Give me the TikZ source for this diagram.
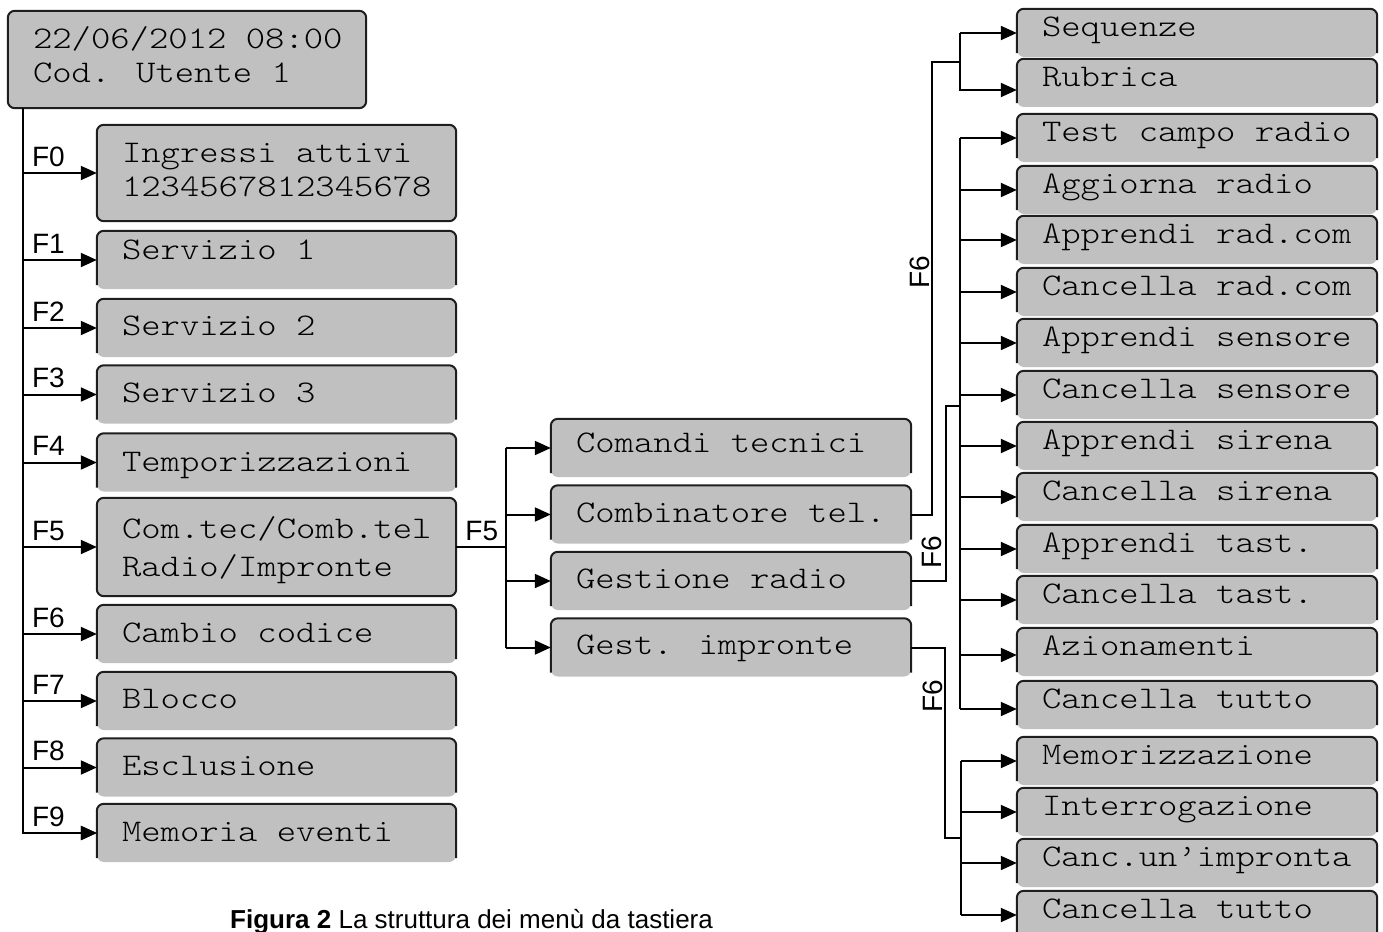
\documentclass[tikz,border=0pt]{standalone}
\usepackage{fontspec}
\setmainfont{Liberation Sans}
\newfontfamily\lcd[FakeStretch=1.17]{Latin Modern Mono Light}
\usetikzlibrary{arrows.meta,calc}
\definecolor{boxgray}{RGB}{192,192,192}
\definecolor{edge}{RGB}{30,30,30}
\tikzset{
  mbox/.style={fill=boxgray, rounded corners=7pt, inner sep=0pt, draw=none},
  outl/.style={line width=2pt, draw=edge, rounded corners=7pt},
  lcdtxt/.style={font=\lcd\fontsize{31.5}{36}\selectfont, anchor=base west, inner sep=0pt},
  flab/.style={font=\fontsize{28}{30}\selectfont, anchor=base west, inner sep=0pt},
  flabv/.style={font=\fontsize{28}{30}\selectfont, anchor=base, rotate=90, inner sep=0pt},
  conn/.style={line width=2pt, draw=black},
  arr/.style={conn, -{Triangle[length=16pt,width=14pt]}}
}
% open-bottom box: name, cx, cy, w, h
\newcommand\obox[5]{%
  \node[mbox, minimum width=#4pt, minimum height=#5pt] (#1) at (#2,#3) {};
  \draw[outl] ($(#1.south west)+(0,-4)$) -- (#1.north west) -- (#1.north east) -- ($(#1.south east)+(0,-4)$);
}
% closed box
\newcommand\cbox[5]{%
  \node[mbox, minimum width=#4pt, minimum height=#5pt] (#1) at (#2,#3) {};
  \draw[outl] (#1.south west) rectangle (#1.north east);
}
% text: name, box, baseline offset from top, text
\newcommand\btxt[4]{\node[lcdtxt] (#1) at ($(#2.north west)+(25,#3)$) {#4};}
\begin{document}
\begin{tikzpicture}[x=1pt,y=-1pt]
\useasboundingbox (0,0) rectangle (1383,931);
\clip (0,0) rectangle (1383,931);

% ---------- left column ----------
\cbox{top}{187}{59.5}{358}{97}
\btxt{topa}{top}{38}{22/06/2012 08:00}
\btxt{topb}{top}{72}{Cod. Utente 1}

\cbox{ing}{276.5}{173}{359}{96}
\btxt{inga}{ing}{38}{Ingressi attivi}
\btxt{ingb}{ing}{72}{1234567812345678}

\obox{s1}{276.5}{260}{359}{58}
\btxt{s1t}{s1}{29}{Servizio 1}
\obox{s2}{276.5}{328}{359}{58}
\btxt{s2t}{s2}{36.5}{Servizio 2}
\obox{s3}{276.5}{394.5}{359}{58}
\btxt{s3t}{s3}{37}{Servizio 3}
\obox{tmp}{276.5}{462.5}{359}{58}
\btxt{tmpt}{tmp}{38.5}{Temporizzazioni}

\cbox{ct}{276.5}{547}{359}{98}
\btxt{cta}{ct}{41}{Com.tec/Comb.tel}
\btxt{ctb}{ct}{79}{Radio/Impronte}

\obox{cc}{276.5}{634}{359}{58}
\btxt{cct}{cc}{38}{Cambio codice}
\obox{blk}{276.5}{701}{359}{58}
\btxt{blkt}{blk}{37}{Blocco}
\obox{esc}{276.5}{767.5}{359}{58}
\btxt{esct}{esc}{37.5}{Esclusione}
\obox{mev}{276.5}{833}{359}{58}
\btxt{mevt}{mev}{38}{Memoria eventi}

\coordinate (tk) at ($(top.south west)+(15,0)$);
\draw[arr] (tk) |- (mev.west);
\foreach \b/\f in {ing/F0,s1/F1,s2/F2,s3/F3,tmp/F4,ct/F5,cc/F6,blk/F7,esc/F8,mev/F9}{
  \draw[arr] (tk |- \b.west) -- (\b.west);
  \node[flab] at ($(tk |- \b.west)+(9,-7)$) {\f};
}

% ---------- middle column ----------
\obox{cmd}{731}{448}{360}{58}
\btxt{cmdt}{cmd}{34}{Comandi tecnici}
\obox{cmb}{731}{514.5}{360}{58}
\btxt{cmbt}{cmb}{37.5}{Combinatore tel.}
\obox{grd}{731}{581}{360}{58}
\btxt{grdt}{grd}{37}{Gestione radio}
\obox{gim}{731}{647.5}{360}{58}
\btxt{gimt}{gim}{36.5}{Gest. impronte}

\coordinate (mj) at ($(ct.east)+(50,0)$);
\draw[conn] (ct.east) -- (mj);
\draw[conn] (mj |- cmd.west) -- (mj |- gim.west);
\foreach \b in {cmd,cmb,grd,gim}{
  \draw[arr] (mj |- \b.west) -- (\b.west);
}
\node[flab] at ($(ct.east)+(9,-7)$) {F5};

% ---------- right column ----------
\foreach \n/\y/\t in {seq/33/Sequenze, rub/83/Rubrica, tcr/138/Test campo radio,
  agr/190/Aggiorna radio, arc/240/Apprendi rad.com, crc/292/Cancella rad.com,
  asn/343/Apprendi sensore, csn/395/Cancella sensore, asr/446/Apprendi sirena,
  csr/497/Cancella sirena, ats/549/Apprendi tast., cts/600/Cancella tast.,
  azn/652/Azionamenti, ctu/705/Cancella tutto, mmz/761/Memorizzazione,
  itg/812/Interrogazione, cui/863/Canc.un’impronta, ctt/915/Cancella tutto}{
  \obox{\n}{1197}{\y}{360}{48}
  \btxt{\n t}{\n}{28}{\t}
}

% Combinatore -> Sequenze / Rubrica
\coordinate (cj) at (960,62);
\coordinate (rubin) at ($(rub.west)+(0,7)$);
\draw[conn] (cmb.east) -- ++(21,0) |- (cj);
\draw[arr] (cj |- seq.west) -- (seq.west);
\draw[arr] (cj |- seq.west) |- (rubin);
\node[flabv] at (929,272) {F6};

% Gestione radio -> radio menu
\coordinate (rj) at (960,406);
\coordinate (aznin) at ($(azn.west)+(0,3)$);
\coordinate (ctuin) at ($(ctu.west)+(0,4)$);
\draw[conn] (grd.east) -- ++(35,0) |- (rj);
\draw[conn] (rj |- tcr.west) -- (rj |- ctuin);
\foreach \b in {tcr,agr,arc,crc,asn,csn,asr,csr,ats,cts}{
  \draw[arr] (rj |- \b.west) -- (\b.west);
}
\draw[arr] (rj |- aznin) -- (aznin);
\draw[arr] (rj |- ctuin) -- (ctuin);
\node[flabv] at (941,552) {F6};

% Gest. impronte -> impronte menu
\coordinate (ij) at (961,838);
\draw[conn] (gim.east) -- ++(34,0) |- (ij);
\draw[conn] (ij |- mmz.west) -- (ij |- ctt.west);
\foreach \b in {mmz,itg,cui,ctt}{
  \draw[arr] (ij |- \b.west) -- (\b.west);
}
\node[flabv] at (942,696) {F6};

% caption
\node[font=\fontsize{26}{30}\selectfont, anchor=base west, inner sep=0pt] (cap) at (230,928)
  {\textbf{Figura 2} La struttura dei menù da tastiera};
\end{tikzpicture}
\end{document}
